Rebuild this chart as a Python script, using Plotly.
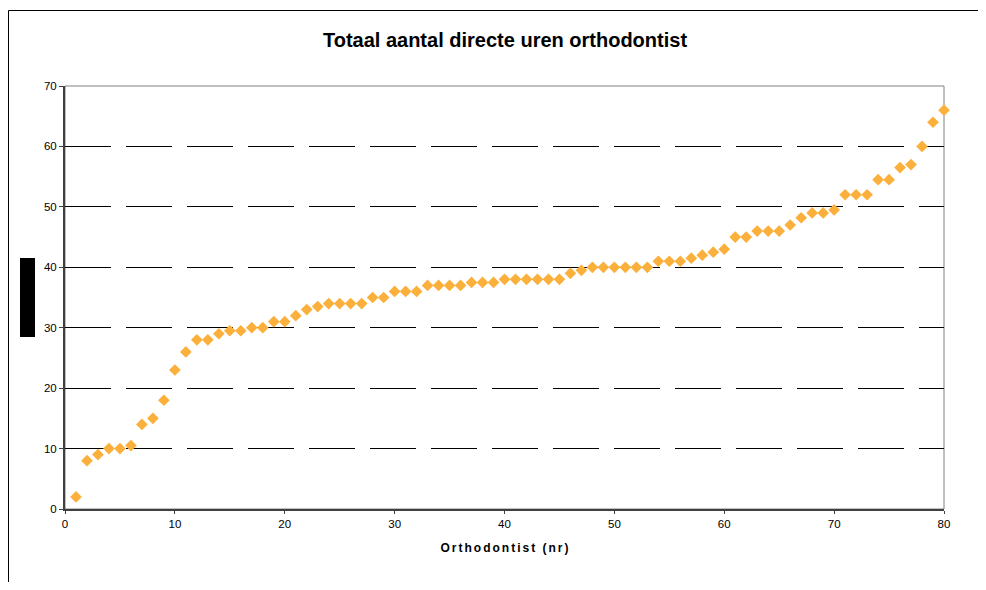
import plotly.graph_objects as go

orthodontist_nr = list(range(1, 81))
direct_hours = [
    2, 8, 9, 10, 10, 10.5, 14, 15, 18, 23,
    26, 28, 28, 29, 29.5, 29.5, 30, 30, 31, 31,
    32, 33, 33.5, 34, 34, 34, 34, 35, 35, 36,
    36, 36, 37, 37, 37, 37, 37.5, 37.5, 37.5, 38,
    38, 38, 38, 38, 38, 39, 39.5, 40, 40, 40,
    40, 40, 40, 41, 41, 41, 41.5, 42, 42.5, 43,
    45, 45, 46, 46, 46, 47, 48.2, 49, 49, 49.5,
    52, 52, 52, 54.5, 54.5, 56.5, 57, 60, 64, 66,
]
x_ticks = [0, 10, 20, 30, 40, 50, 60, 70, 80]
y_ticks = [0, 10, 20, 30, 40, 50, 60, 70]
title_text = "Totaal aantal directe uren orthodontist"
x_title_text = "Orthodontist (nr)"

# page offset of the figure inside the browser body (default 8px margin)
OFF = 8
W, H = 986 - 2 * OFF, 590 - 2 * OFF
# plot area in page pixels
L, R, T, B = 65 - OFF, 944 - OFF, 86 - OFF, 509 - OFF


def px(x):
    return (x - OFF - L) / (R - L)


def py(y):
    return (B - (y - OFF)) / (B - T)


fig = go.Figure()
fig.add_trace(go.Scatter(
    x=orthodontist_nr, y=direct_hours, mode="markers",
    marker=dict(symbol="diamond", size=9, color="#FBB03B", line=dict(width=0)),
    showlegend=False, cliponaxis=False,
))

font = dict(family="Liberation Sans, Arial, sans-serif", size=11.5, color="#000000")
spaced_title = "\u2006".join(x_title_text)

fig.update_layout(
    width=W, height=H,
    margin=dict(l=L, r=W - R, t=T, b=H - B, autoexpand=False),
    paper_bgcolor="white", plot_bgcolor="white",
    font=font,
    title=dict(
        text="<b>" + title_text + "</b>",
        x=px(505), xref="paper", xanchor="center",
        y=1 - (39.5 - OFF) / H, yref="container", yanchor="middle",
        font=dict(family="Liberation Sans, Arial, sans-serif", size=20, color="#000000"),
    ),
    xaxis=dict(
        range=[0, 80], tickvals=x_ticks, ticks="outside", ticklen=3, tickcolor="#404040",
        showgrid=False, zeroline=False, showline=True, linecolor="#404040", linewidth=2,
        tickfont=font,
        title=dict(text="<b>" + spaced_title + "</b>", standoff=15,
                   font=dict(family="Liberation Sans, Arial, sans-serif", size=12, color="#000000")),
    ),
    yaxis=dict(
        range=[0, 70], tickvals=y_ticks, ticks="outside", ticklen=4, tickcolor="#404040",
        showgrid=True, gridcolor="#000000", gridwidth=1, griddash="46px,15px",
        zeroline=False, showline=True, linecolor="#404040", linewidth=2,
        tickfont=font,
    ),
    shapes=[
        # plot area border
        dict(type="rect", xref="paper", yref="paper", x0=0, x1=1, y0=0, y1=1,
             line=dict(color="#808080", width=1), layer="below"),
        # outer chart frame
        dict(type="rect", xref="paper", yref="paper",
             x0=px(8.5), x1=px(1000), y0=py(610), y1=py(10.5),
             line=dict(color="#000000", width=1), fillcolor="rgba(0,0,0,0)", layer="below"),
        # black block (y-axis title placeholder)
        dict(type="rect", xref="paper", yref="paper",
             x0=px(20), x1=px(35), y0=py(337), y1=py(258),
             line=dict(width=0), fillcolor="#000000"),
    ],
)

fig.write_html("out.html")
